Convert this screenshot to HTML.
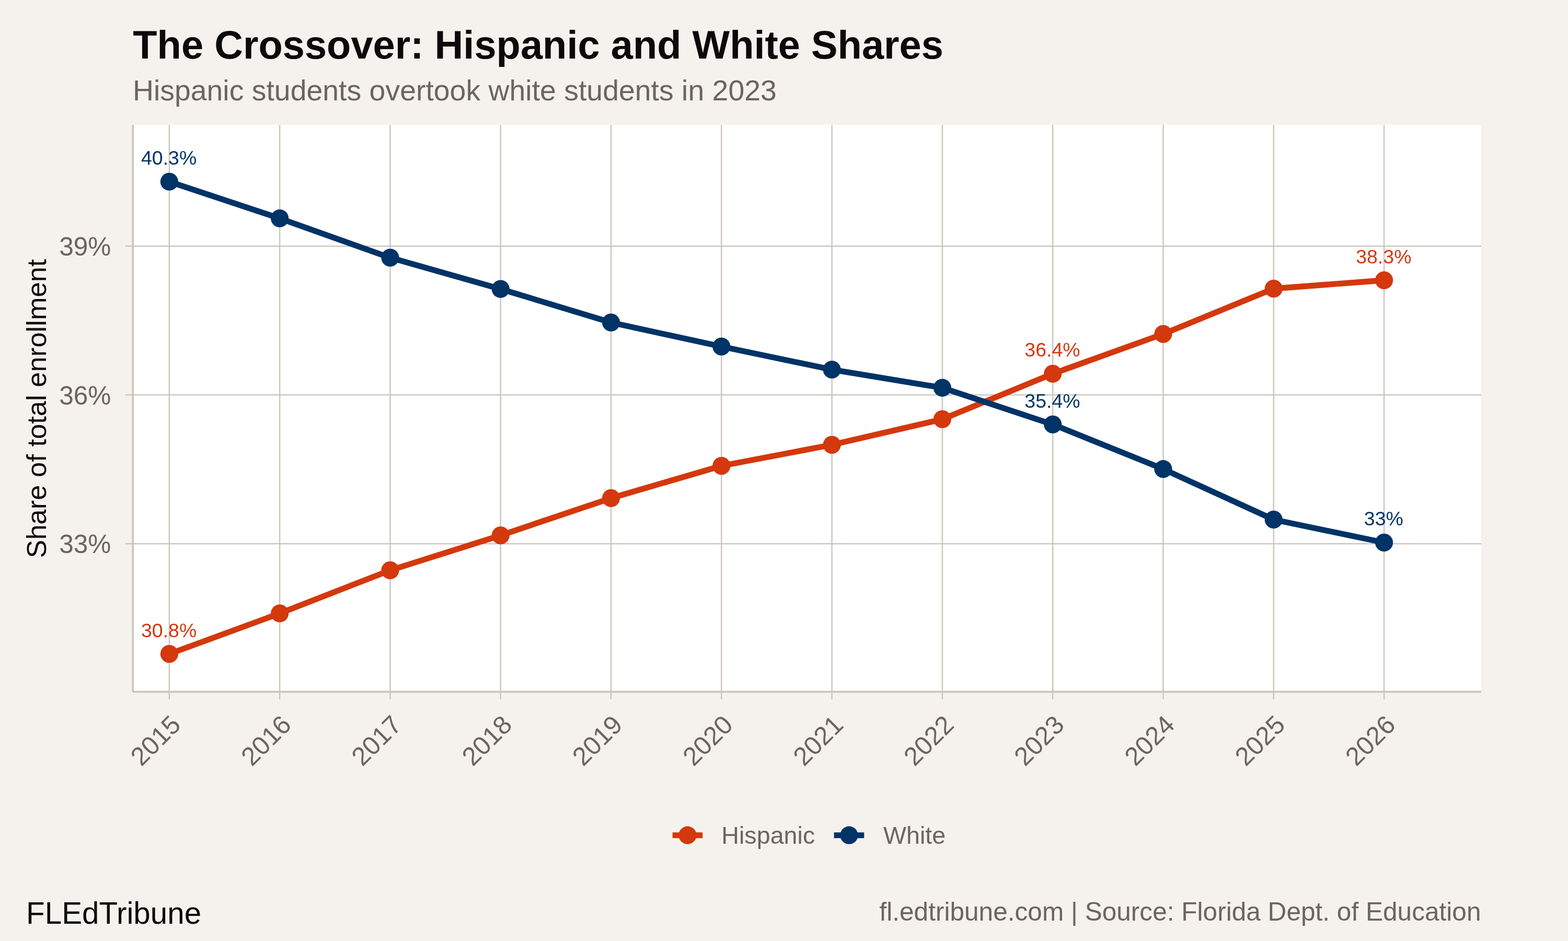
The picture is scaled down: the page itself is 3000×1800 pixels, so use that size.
<!DOCTYPE html>
<html lang="en">
<head>
<meta charset="utf-8">
<title>The Crossover: Hispanic and White Shares</title>
<style>
html,body{margin:0;padding:0;background:#F5F2ED;}
body{width:3000px;height:1800px;overflow:hidden;}
svg{display:block;}
text{font-family:"Liberation Sans", Arial, Helvetica, sans-serif;font-kerning:normal;}
</style>
</head>
<body>
<svg xmlns="http://www.w3.org/2000/svg" width="3000" height="1800" viewBox="0 0 3000 1800" role="img" aria-label="Line chart: Hispanic and White shares of total enrollment, 2015 to 2026">
<rect x="0" y="0" width="3000" height="1800" fill="#F5F2ED"/>
<rect x="254.3" y="239.0" width="2579.70" height="1084.30" fill="#FFFFFF"/>

<g stroke="#C9C3B9" stroke-width="2.3" fill="none">
<line x1="254.3" y1="1040.05" x2="2834.0" y2="1040.05"/>
<line x1="254.3" y1="755.42" x2="2834.0" y2="755.42"/>
<line x1="254.3" y1="470.80" x2="2834.0" y2="470.80"/>
<line x1="323.90" y1="239.0" x2="323.90" y2="1323.3"/>
<line x1="535.19" y1="239.0" x2="535.19" y2="1323.3"/>
<line x1="746.48" y1="239.0" x2="746.48" y2="1323.3"/>
<line x1="957.77" y1="239.0" x2="957.77" y2="1323.3"/>
<line x1="1169.06" y1="239.0" x2="1169.06" y2="1323.3"/>
<line x1="1380.35" y1="239.0" x2="1380.35" y2="1323.3"/>
<line x1="1591.64" y1="239.0" x2="1591.64" y2="1323.3"/>
<line x1="1802.93" y1="239.0" x2="1802.93" y2="1323.3"/>
<line x1="2014.22" y1="239.0" x2="2014.22" y2="1323.3"/>
<line x1="2225.51" y1="239.0" x2="2225.51" y2="1323.3"/>
<line x1="2436.80" y1="239.0" x2="2436.80" y2="1323.3"/>
<line x1="2648.09" y1="239.0" x2="2648.09" y2="1323.3"/>
</g>
<g stroke="#C9C3B9" fill="none">
<line x1="254.3" y1="239.0" x2="254.3" y2="1323.3" stroke-width="3.4"/>
<line x1="254.3" y1="1323.3" x2="2834.0" y2="1323.3" stroke-width="3.4"/>
<line x1="239.72" y1="1040.05" x2="254.3" y2="1040.05" stroke-width="2.3"/>
<line x1="239.72" y1="755.42" x2="254.3" y2="755.42" stroke-width="2.3"/>
<line x1="239.72" y1="470.80" x2="254.3" y2="470.80" stroke-width="2.3"/>
<line x1="323.90" y1="1323.3" x2="323.90" y2="1337.88" stroke-width="2.3"/>
<line x1="535.19" y1="1323.3" x2="535.19" y2="1337.88" stroke-width="2.3"/>
<line x1="746.48" y1="1323.3" x2="746.48" y2="1337.88" stroke-width="2.3"/>
<line x1="957.77" y1="1323.3" x2="957.77" y2="1337.88" stroke-width="2.3"/>
<line x1="1169.06" y1="1323.3" x2="1169.06" y2="1337.88" stroke-width="2.3"/>
<line x1="1380.35" y1="1323.3" x2="1380.35" y2="1337.88" stroke-width="2.3"/>
<line x1="1591.64" y1="1323.3" x2="1591.64" y2="1337.88" stroke-width="2.3"/>
<line x1="1802.93" y1="1323.3" x2="1802.93" y2="1337.88" stroke-width="2.3"/>
<line x1="2014.22" y1="1323.3" x2="2014.22" y2="1337.88" stroke-width="2.3"/>
<line x1="2225.51" y1="1323.3" x2="2225.51" y2="1337.88" stroke-width="2.3"/>
<line x1="2436.80" y1="1323.3" x2="2436.80" y2="1337.88" stroke-width="2.3"/>
<line x1="2648.09" y1="1323.3" x2="2648.09" y2="1337.88" stroke-width="2.3"/>
</g>
<g id="series-hispanic">
<polyline points="323.90,1250.90 535.19,1173.30 746.48,1090.90 957.77,1024.10 1169.06,952.90 1380.35,891.10 1591.64,850.90 1802.93,801.90 2014.22,714.90 2225.51,638.90 2436.80,552.10 2648.09,536.10" fill="none" stroke="#D4380D" stroke-width="11.1" stroke-linejoin="round" stroke-linecap="butt"/>
<g fill="#D4380D">
<circle cx="323.90" cy="1250.90" r="17.1"/>
<circle cx="535.19" cy="1173.30" r="17.1"/>
<circle cx="746.48" cy="1090.90" r="17.1"/>
<circle cx="957.77" cy="1024.10" r="17.1"/>
<circle cx="1169.06" cy="952.90" r="17.1"/>
<circle cx="1380.35" cy="891.10" r="17.1"/>
<circle cx="1591.64" cy="850.90" r="17.1"/>
<circle cx="1802.93" cy="801.90" r="17.1"/>
<circle cx="2014.22" cy="714.90" r="17.1"/>
<circle cx="2225.51" cy="638.90" r="17.1"/>
<circle cx="2436.80" cy="552.10" r="17.1"/>
<circle cx="2648.09" cy="536.10" r="17.1"/>
</g></g>
<g id="series-white">
<polyline points="323.90,347.50 535.19,417.70 746.48,492.90 957.77,552.80 1169.06,616.90 1380.35,662.90 1591.64,707.00 1802.93,741.80 2014.22,811.90 2225.51,897.20 2436.80,993.90 2648.09,1037.90" fill="none" stroke="#003366" stroke-width="11.1" stroke-linejoin="round" stroke-linecap="butt"/>
<g fill="#003366">
<circle cx="323.90" cy="347.50" r="17.1"/>
<circle cx="535.19" cy="417.70" r="17.1"/>
<circle cx="746.48" cy="492.90" r="17.1"/>
<circle cx="957.77" cy="552.80" r="17.1"/>
<circle cx="1169.06" cy="616.90" r="17.1"/>
<circle cx="1380.35" cy="662.90" r="17.1"/>
<circle cx="1591.64" cy="707.00" r="17.1"/>
<circle cx="1802.93" cy="741.80" r="17.1"/>
<circle cx="2014.22" cy="811.90" r="17.1"/>
<circle cx="2225.51" cy="897.20" r="17.1"/>
<circle cx="2436.80" cy="993.90" r="17.1"/>
<circle cx="2648.09" cy="1037.90" r="17.1"/>
</g></g>
<text x="323.15" y="315.00" font-size="37.5" fill="#003366" text-anchor="middle">40.3%</text>
<text x="323.15" y="1219.00" font-size="37.5" fill="#D4380D" text-anchor="middle">30.8%</text>
<text x="2013.47" y="682.00" font-size="37.5" fill="#D4380D" text-anchor="middle">36.4%</text>
<text x="2013.47" y="780.00" font-size="37.5" fill="#003366" text-anchor="middle">35.4%</text>
<text x="2647.34" y="503.90" font-size="37.5" fill="#D4380D" text-anchor="middle">38.3%</text>
<text x="2647.34" y="1005.00" font-size="37.5" fill="#003366" text-anchor="middle">33%</text>
<text x="212.40" y="1058.45" font-size="49.58" fill="#6B655F" text-anchor="end">33%</text>
<text x="212.40" y="773.82" font-size="49.58" fill="#6B655F" text-anchor="end">36%</text>
<text x="212.40" y="489.20" font-size="49.58" fill="#6B655F" text-anchor="end">39%</text>
<text transform="translate(348.60,1389.50) rotate(-45)" font-size="49.58" fill="#6B655F" text-anchor="end">2015</text>
<text transform="translate(559.89,1389.50) rotate(-45)" font-size="49.58" fill="#6B655F" text-anchor="end">2016</text>
<text transform="translate(771.18,1389.50) rotate(-45)" font-size="49.58" fill="#6B655F" text-anchor="end">2017</text>
<text transform="translate(982.47,1389.50) rotate(-45)" font-size="49.58" fill="#6B655F" text-anchor="end">2018</text>
<text transform="translate(1193.76,1389.50) rotate(-45)" font-size="49.58" fill="#6B655F" text-anchor="end">2019</text>
<text transform="translate(1405.05,1389.50) rotate(-45)" font-size="49.58" fill="#6B655F" text-anchor="end">2020</text>
<text transform="translate(1616.34,1389.50) rotate(-45)" font-size="49.58" fill="#6B655F" text-anchor="end">2021</text>
<text transform="translate(1827.63,1389.50) rotate(-45)" font-size="49.58" fill="#6B655F" text-anchor="end">2022</text>
<text transform="translate(2038.92,1389.50) rotate(-45)" font-size="49.58" fill="#6B655F" text-anchor="end">2023</text>
<text transform="translate(2250.21,1389.50) rotate(-45)" font-size="49.58" fill="#6B655F" text-anchor="end">2024</text>
<text transform="translate(2461.50,1389.50) rotate(-45)" font-size="49.58" fill="#6B655F" text-anchor="end">2025</text>
<text transform="translate(2672.79,1389.50) rotate(-45)" font-size="49.58" fill="#6B655F" text-anchor="end">2026</text>
<text transform="translate(87.9,781.6) rotate(-90)" font-size="52.5" fill="#0A0A0A" text-anchor="middle">Share of total enrollment</text>
<text x="254.3" y="112.0" font-size="75.83" font-weight="bold" fill="#0A0A0A">The Crossover: Hispanic and White Shares</text>
<text x="253.9" y="191.8" font-size="55.42" fill="#6B655F">Hispanic students overtook white students in 2023</text>
<line x1="1286.70" y1="1597.7" x2="1344.30" y2="1597.7" stroke="#D4380D" stroke-width="11.1"/>
<circle cx="1315.50" cy="1597.7" r="17.1" fill="#D4380D"/>
<text x="1380.3" y="1613.75" font-size="46.67" fill="#6B655F">Hispanic</text>
<line x1="1595.70" y1="1597.7" x2="1653.30" y2="1597.7" stroke="#003366" stroke-width="11.1"/>
<circle cx="1624.50" cy="1597.7" r="17.1" fill="#003366"/>
<text x="1690.0" y="1613.75" font-size="46.67" fill="#6B655F">White</text>
<text x="2833.5" y="1760.8" font-size="49.58" fill="#6B655F" text-anchor="end">fl.edtribune.com | Source: Florida Dept. of Education</text>
<text x="50.1" y="1767.0" font-size="58.33" fill="#0A0A0A">FLEdTribune</text>
</svg>
</body>
</html>
